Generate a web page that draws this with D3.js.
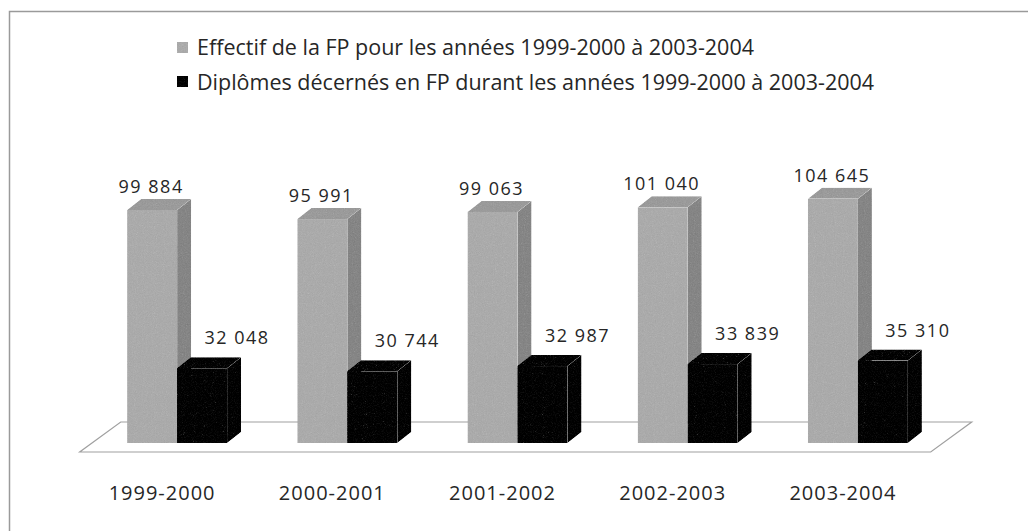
<!DOCTYPE html>
<html>
<head>
<meta charset="utf-8">
<script src="https://cdnjs.cloudflare.com/ajax/libs/d3/7.8.5/d3.min.js"></script>
<style>
    body { margin: 0; background: #fff; }
    text { font-family: "Open Sans", sans-serif; fill: #262626; }
</style>
</head>
<body>
<svg id="chart" width="1028" height="531"></svg>
<script>
const years = ["1999-2000", "2000-2001", "2001-2002", "2002-2003", "2003-2004"];
const effectif = [99884, 95991, 99063, 101040, 104645];
const diplomes = [32048, 30744, 32987, 33839, 35310];
const seriesNames = [
    "Effectif de la FP pour les années 1999-2000 à 2003-2004",
    "Diplômes décernés en FP durant les années 1999-2000 à 2003-2004"
];

// colours: front, top, side
const shades = [
    { front: "#b3b3b3", top: "#a4a4a4", side: "#919191" },
    { front: "#222222", top: "#2e2e2e", side: "#141414" }
];

const svg = d3.select("#chart");
const fr = d3.formatLocale({ decimal: ",", thousands: " ", grouping: [3], currency: ["", ""] }).format(",d");

// depth of a bar and of the floor (oblique projection)
const depth = { dx: 14, dy: -11 };
const floorDepth = { dx: 41, dy: -30 };

const x0 = d3.scaleBand().domain(years).range([92, 943]).paddingInner(0.4126).paddingOuter(0.2063);
const x1 = d3.scaleBand().domain([0, 1]).range([0, x0.bandwidth()]);
const y = d3.scaleLinear().domain([0, 100000]).range([443, 209.7]);

// scanner grain
const defs = svg.append("defs");
const grain = defs.append("filter").attr("id", "grain").attr("x", 0).attr("y", 0).attr("width", 1).attr("height", 1);
grain.append("feTurbulence").attr("type", "fractalNoise").attr("baseFrequency", 0.9).attr("numOctaves", 2).attr("seed", 3).attr("result", "n");
grain.append("feColorMatrix").attr("in", "n").attr("type", "saturate").attr("values", 0).attr("result", "g");
grain.append("feComposite").attr("in", "SourceGraphic").attr("in2", "g").attr("operator", "arithmetic")
    .attr("k1", 0).attr("k2", 1).attr("k3", 0.22).attr("k4", -0.11).attr("result", "m");
grain.append("feComposite").attr("in", "m").attr("in2", "SourceGraphic").attr("operator", "in");

// frame
svg.append("rect")
    .attr("x", 9.5).attr("y", 11.5)
    .attr("width", 1040).attr("height", 540)
    .attr("fill", "none").attr("stroke", "#9a9a9a").attr("stroke-width", 1.5);

// legend
const legend = svg.append("g").attr("id", "legend");
seriesNames.forEach(function (name, i) {
    legend.append("rect")
        .attr("x", 177).attr("y", 42 + i * 34)
        .attr("width", 11).attr("height", 11)
        .attr("fill", shades[i].front)
        .attr("filter", "url(#grain)");
    legend.append("text")
        .attr("x", 197).attr("y", 55 + i * 35)
        .style("font-size", "21.5px")
        .text(name);
});

// floor
const fx0 = x0.range()[0] - 12.3, fx1 = x0.range()[1] - 12.3, fy = y(0) + 9;
svg.append("polygon")
    .attr("points", [
        [fx0, fy], [fx1, fy],
        [fx1 + floorDepth.dx, fy + floorDepth.dy],
        [fx0 + floorDepth.dx, fy + floorDepth.dy]
    ].map(p => p.join(",")).join(" "))
    .attr("fill", "#fff").attr("stroke", "#a0a0a0").attr("stroke-width", 1.2);

function drawBar(g, x, w, v, c) {
    let top = y(v), bot = y(0);
    g.append("polygon")
        .attr("points", [[x + w, top], [x + w + depth.dx, top + depth.dy], [x + w + depth.dx, bot + depth.dy], [x + w, bot]].map(p => p.join(",")).join(" "))
        .attr("fill", c.side);
    g.append("polygon")
        .attr("points", [[x, top], [x + w, top], [x + w + depth.dx, top + depth.dy], [x + depth.dx, top + depth.dy]].map(p => p.join(",")).join(" "))
        .attr("fill", c.top);
    g.append("rect")
        .attr("x", x).attr("y", top)
        .attr("width", w).attr("height", bot - top)
        .attr("fill", c.front);
}

const bars = svg.append("g").attr("id", "bars").attr("filter", "url(#grain)");
years.forEach(function (yr, i) {
    let g = bars.append("g");
    drawBar(g, x0(yr) + x1(0), x1.bandwidth(), effectif[i], shades[0]);
    drawBar(g, x0(yr) + x1(1), x1.bandwidth(), diplomes[i], shades[1]);
});

// value labels
const labels = svg.append("g").attr("id", "labels");
years.forEach(function (yr, i) {
    labels.append("text")
        .attr("x", x0(yr) + x1(0) + x1.bandwidth() / 2 - 1)
        .attr("y", y(effectif[i]) - 17)
        .attr("text-anchor", "middle")
        .style("font-size", "18px")
        .style("letter-spacing", "1.5px")
        .text(fr(effectif[i]));
    labels.append("text")
        .attr("x", x0(yr) + x1(1) + x1.bandwidth() / 2 + 35)
        .attr("y", y(diplomes[i]) - 24)
        .attr("text-anchor", "middle")
        .style("font-size", "18px")
        .style("letter-spacing", "1.5px")
        .text(fr(diplomes[i]));
});

// category axis along the front of the floor
const axis = svg.append("g").attr("id", "xaxis");
years.forEach(function (yr) {
    axis.append("text")
        .attr("x", x0(yr) + x1.bandwidth() - 15)
        .attr("y", 500)
        .attr("text-anchor", "middle")
        .style("font-size", "20px")
        .style("letter-spacing", "1px")
        .text(yr);
});
</script>
</body>
</html>
